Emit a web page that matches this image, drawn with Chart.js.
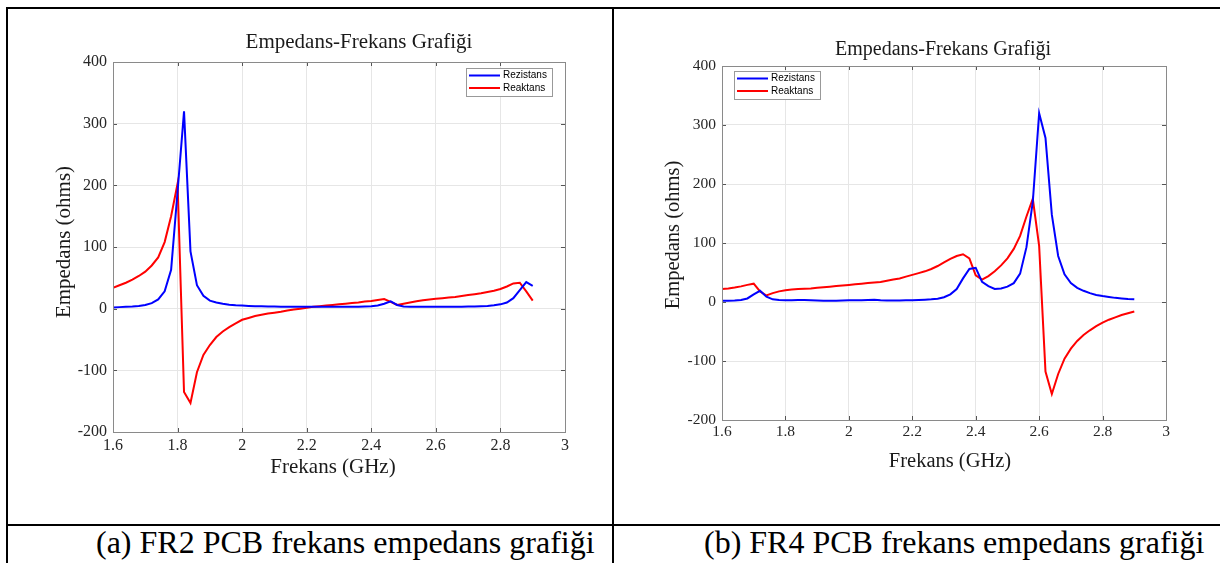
<!DOCTYPE html>
<html>
<head>
<meta charset="utf-8">
<script src="https://cdn.jsdelivr.net/npm/chart.js"></script>
<style>
  body { margin: 0; background: #fff; width: 1220px; height: 563px; position: relative; overflow: hidden; }
  .rule { position: absolute; background: #000; }
  .cap { position: absolute; font-family: "Liberation Serif", "Times New Roman", serif; font-size: 32px; line-height: 32px; color: #000; white-space: nowrap; }
  canvas { position: absolute; }
</style>
</head>
<body>
<div class="rule" style="left:6px;top:7px;width:1214px;height:2px"></div>
<div class="rule" style="left:6px;top:7px;width:2px;height:556px"></div>
<div class="rule" style="left:612px;top:7px;width:2px;height:556px"></div>
<div class="rule" style="left:6px;top:524px;width:1214px;height:2px"></div>
<div class="cap" style="left:96px;top:526px">(a) FR2 PCB frekans empedans grafiği</div>
<div class="cap" style="left:704px;top:526px">(b) FR4 PCB frekans empedans grafiği</div>

<canvas id="chartFR2" width="602" height="513" style="left:9px;top:10px"></canvas>
<canvas id="chartFR4" width="602" height="513" style="left:615px;top:10px"></canvas>

<script>
// frequency points (GHz)
const freq = [
  1.60, 1.62, 1.64, 1.66, 1.68, 1.70, 1.72, 1.74, 1.76, 1.78,
  1.80, 1.82, 1.84, 1.86, 1.88, 1.90, 1.92, 1.94, 1.96, 1.98,
  2.00, 2.02, 2.04, 2.06, 2.08, 2.10, 2.12, 2.14, 2.16, 2.18,
  2.20, 2.22, 2.24, 2.26, 2.28, 2.30, 2.32, 2.34, 2.36, 2.38,
  2.40, 2.42, 2.44, 2.46, 2.48, 2.50, 2.52, 2.54, 2.56, 2.58,
  2.60, 2.62, 2.64, 2.66, 2.68, 2.70, 2.72, 2.74, 2.76, 2.78,
  2.80, 2.82, 2.84, 2.86, 2.88, 2.90
];

// (a) FR2
const fr2Rezistans = [
  2, 2.5, 3, 3.5, 4.5, 6, 9, 15, 28, 63,
  190, 320, 93, 38, 21, 13, 10, 8, 6.5, 5.5,
  5, 4.5, 4, 4, 3.5, 3.5, 3, 3, 3, 3,
  3, 3, 3, 3, 3, 3, 3, 3, 3, 3.5,
  4, 5, 8, 12, 6, 3.5, 3, 3, 3, 3,
  3, 3, 3, 3, 3, 3.5, 3.5, 4, 4.5, 5.5,
  7, 10, 17, 30, 43, 37
];
const fr2Reaktans = [
  34, 38, 42, 47, 53, 60, 70, 83, 108, 150,
  203, -135, -153, -103, -75, -59, -46, -37, -30, -24,
  -18, -15, -12, -10, -8, -6.5, -5, -3, -1.5, 0,
  1.5, 3, 4, 5, 6, 7, 8, 9, 10, 11.5,
  12.5, 14, 15.5, 11, 6, 8, 10, 12, 13.5, 15,
  16, 17, 18, 19, 20.5, 22, 23.5, 25, 27, 29,
  32, 36, 41, 42, 28, 13
];

// (b) FR4
const fr4Rezistans = [
  2, 2, 2.5, 3.5, 6, 13, 19, 9, 4.5, 3.5,
  3, 3, 3.5, 3.5, 3, 2.5, 2, 2, 2, 2.5,
  3, 3, 3, 3.5, 4, 3, 2.5, 2.5, 2.5, 3,
  3, 3.5, 4, 4.5, 5.5, 8, 13, 22, 40, 56,
  58, 34, 27, 22, 23, 26, 32, 48, 93, 170,
  320, 278, 148, 78, 47, 32, 24, 19, 15, 12,
  10, 8.5, 7, 6, 5, 4.5
];
const fr4Reaktans = [
  22, 23, 24.5, 26.5, 29, 31, 18, 11, 15, 18,
  20, 21, 22, 22.5, 23, 24, 25, 26, 27, 28,
  29, 30, 31, 32, 33, 34, 36, 38, 40, 43,
  46, 49, 52, 56, 61, 67, 73, 78, 81, 74,
  45, 38, 44, 52, 62, 74, 90, 112, 145, 175,
  95, -118, -156, -122, -96, -79, -66, -56, -48, -41,
  -35, -30, -26, -22, -19, -16
];

const xTickValues = [1.6, 1.8, 2, 2.2, 2.4, 2.6, 2.8, 3];
const yTickValues = [-200, -100, 0, 100, 200, 300, 400];
const seriesNames = ['Rezistans', 'Reaktans'];
const seriesColors = ['#0000ff', '#ff0000'];

const SERIF = '"Liberation Serif", "Times New Roman", serif';

// matlab look: box, inner ticks, title, axis labels, legend box
const matlabFrame = {
  id: 'matlabFrame',
  afterDraw(chart, args, o) {
    const { ctx, chartArea: ca, scales } = chart;
    ctx.save();
    // inner tick marks
    ctx.strokeStyle = '#555';
    ctx.lineWidth = 1;
    ctx.beginPath();
    scales.x.ticks.forEach(t => {
      const px = Math.round(scales.x.getPixelForValue(t.value)) + 0.5;
      ctx.moveTo(px, ca.bottom); ctx.lineTo(px, ca.bottom - 4);
      ctx.moveTo(px, ca.top); ctx.lineTo(px, ca.top + 4);
    });
    scales.y.ticks.forEach(t => {
      const py = Math.round(scales.y.getPixelForValue(t.value)) + 0.5;
      ctx.moveTo(ca.left, py); ctx.lineTo(ca.left + 4, py);
      ctx.moveTo(ca.right, py); ctx.lineTo(ca.right - 4, py);
    });
    ctx.stroke();
    // box
    ctx.strokeStyle = '#8a8a8a';
    ctx.strokeRect(Math.round(ca.left) + 0.5, Math.round(ca.top) + 0.5,
      Math.round(ca.right - ca.left), Math.round(ca.bottom - ca.top));

    const midX = (ca.left + ca.right) / 2;
    const midY = (ca.top + ca.bottom) / 2;
    ctx.fillStyle = '#1a1a1a';
    // title
    ctx.font = o.titleSize + 'px ' + SERIF;
    ctx.textAlign = 'center';
    ctx.textBaseline = 'alphabetic';
    ctx.fillText('Empedans-Frekans Grafiği', midX + o.titleDx, ca.top - o.titleGap);
    // x label
    ctx.font = o.labelSize + 'px ' + SERIF;
    ctx.textBaseline = 'middle';
    ctx.fillText('Frekans (GHz)', midX + o.xLabelDx, ca.bottom + o.xLabelGap);
    // y label
    ctx.save();
    ctx.translate(ca.left - o.yLabelGap, midY + o.yLabelDy);
    ctx.rotate(-Math.PI / 2);
    ctx.fillText('Empedans (ohms)', 0, 0);
    ctx.restore();

    // legend
    const lx = o.legendRight ? ca.right - o.legendInset - o.legendW : ca.left + o.legendInset;
    const ly = ca.top + o.legendTop;
    ctx.fillStyle = '#fff';
    ctx.fillRect(lx, ly, o.legendW, 28);
    ctx.strokeStyle = '#999';
    ctx.lineWidth = 1;
    ctx.strokeRect(Math.round(lx) + 0.5, Math.round(ly) + 0.5, o.legendW, 28);
    ctx.font = '10px "Liberation Sans", Arial, sans-serif';
    ctx.textAlign = 'left';
    ctx.textBaseline = 'middle';
    seriesNames.forEach((name, i) => {
      const ry = ly + 7.5 + i * 12.5;
      ctx.strokeStyle = seriesColors[i];
      ctx.lineWidth = 2;
      ctx.beginPath();
      ctx.moveTo(lx + 3, ry); ctx.lineTo(lx + 34, ry);
      ctx.stroke();
      ctx.fillStyle = '#000';
      ctx.fillText(name, lx + 37, ry);
    });
    ctx.restore();
  }
};

function makeChart(id, rez, reak, cfg) {
  const ctx = document.getElementById(id).getContext('2d');
  const pts = arr => freq.map((f, i) => ({ x: f, y: arr[i] }));
  return new Chart(ctx, {
    type: 'line',
    data: {
      datasets: [
        { label: seriesNames[0], data: pts(rez), borderColor: seriesColors[0], borderWidth: 2, pointRadius: 0, tension: 0 },
        { label: seriesNames[1], data: pts(reak), borderColor: seriesColors[1], borderWidth: 2, pointRadius: 0, tension: 0 }
      ]
    },
    options: {
      responsive: false,
      animation: false,
      devicePixelRatio: 1,
      layout: { padding: { left: 0, top: cfg.top, right: cfg.right, bottom: 0 } },
      plugins: {
        legend: { display: false },
        title: { display: false },
        tooltip: { enabled: false },
        matlabFrame: cfg.frame
      },
      scales: {
        x: {
          type: 'linear',
          min: 1.6, max: 3,
          afterBuildTicks: s => { s.ticks = xTickValues.map(v => ({ value: v })); },
          afterFit: s => { s.height = cfg.xHeight; },
          grid: { color: '#e6e6e6', drawTicks: false },
          border: { display: false },
          ticks: {
            padding: cfg.xTickPad,
            color: '#262626',
            font: { family: SERIF, size: cfg.tickSize },
            maxRotation: 0,
            callback: v => String(Number(v.toFixed(1)))
          }
        },
        y: {
          min: -200, max: 400,
          afterBuildTicks: s => { s.ticks = yTickValues.map(v => ({ value: v })); },
          afterFit: s => { s.width = cfg.yWidth; },
          grid: { color: '#e6e6e6', drawTicks: false },
          border: { display: false },
          ticks: {
            padding: 6,
            color: '#262626',
            font: { family: SERIF, size: cfg.tickSize },
            callback: v => String(v)
          }
        }
      }
    },
    plugins: [matlabFrame]
  });
}

makeChart('chartFR2', fr2Rezistans, fr2Reaktans, {
  top: 52, right: 46, xHeight: 91, yWidth: 104, tickSize: 16, xTickPad: 4,
  frame: { titleSize: 21, titleDx: 20, titleGap: 14, labelSize: 21, xLabelDx: -6, xLabelGap: 35,
           yLabelGap: 49, yLabelDy: -5, legendRight: true, legendInset: 13, legendTop: 6, legendW: 86 }
});

makeChart('chartFR4', fr4Rezistans, fr4Reaktans, {
  top: 56, right: 51, xHeight: 103, yWidth: 107, tickSize: 15.5, xTickPad: 3,
  frame: { titleSize: 20, titleDx: -1, titleGap: 11, labelSize: 20.5, xLabelDx: 6, xLabelGap: 42,
           yLabelGap: 48, yLabelDy: -8, legendRight: false, legendInset: 12, legendTop: 5, legendW: 86 }
});
</script>
</body>
</html>
